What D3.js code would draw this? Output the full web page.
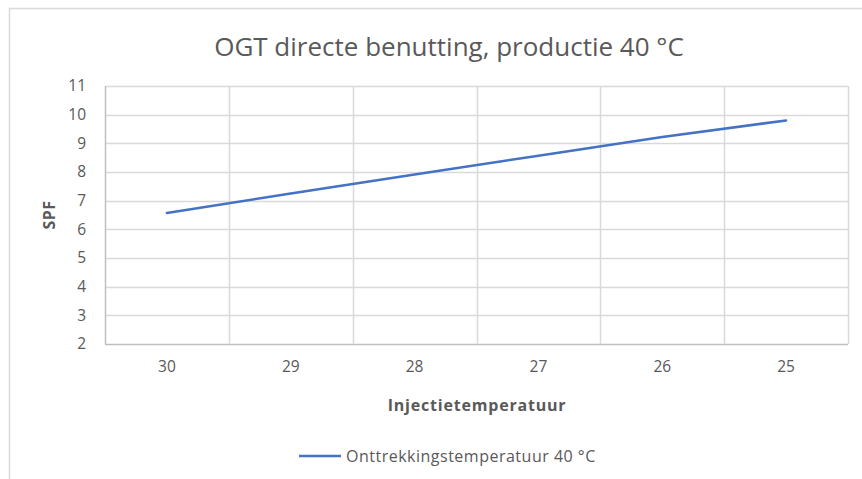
<!DOCTYPE html>
<html>
<head>
<meta charset="utf-8">
<script src="https://cdn.jsdelivr.net/npm/d3@7"></script>
<style>
  body { margin: 0; background: #fff; }
  text { font-family: 'Open Sans', 'Liberation Sans', sans-serif; fill: #595959; }
</style>
</head>
<body>
<div id="chart"></div>
<script>
const width = 862
const height = 479

const categories = ['30', '29', '28', '27', '26', '25']
const spfValues = [6.57, 7.25, 7.91, 8.57, 9.22, 9.8]
const yTicks = [2, 3, 4, 5, 6, 7, 8, 9, 10, 11]
const seriesName = 'Onttrekkingstemperatuur 40 °C'

const margin = { left: 105, right: 14, top: 86, bottom: 135 }

const svg = d3
  .select('#chart')
  .append('svg')
  .attr('width', width)
  .attr('height', height)

// chart frame
svg
  .append('rect')
  .attr('x', 9.5)
  .attr('y', 8.5)
  .attr('width', width)
  .attr('height', height)
  .attr('fill', 'none')
  .attr('stroke', '#d9d9d9')
  .attr('stroke-width', 1.5)

const x = d3
  .scaleBand()
  .domain(categories)
  .range([margin.left, width - margin.right])

const y = d3
  .scaleLinear()
  .domain([2, 11])
  .range([height - margin.bottom, margin.top])

// horizontal grid
svg
  .append('g')
  .selectAll('line')
  .data(yTicks)
  .enter()
  .append('line')
  .attr('x1', margin.left)
  .attr('x2', width - margin.right)
  .attr('y1', d => Math.round(y(d)) + 0.5)
  .attr('y2', d => Math.round(y(d)) + 0.5)
  .style('stroke', d => (d === 2 ? '#bfbfbf' : '#d9d9d9'))
  .style('stroke-width', 1.5)

// vertical grid at category edges
const edges = categories.map(c => x(c)).concat([width - margin.right])
svg
  .append('g')
  .selectAll('line')
  .data(edges)
  .enter()
  .append('line')
  .attr('x1', d => Math.round(d) + 0.5)
  .attr('x2', d => Math.round(d) + 0.5)
  .attr('y1', y(11))
  .attr('y2', y(2))
  .style('stroke', (d, i) => (i === 0 ? '#bfbfbf' : '#d9d9d9'))
  .style('stroke-width', 1.5)

// y axis labels
svg
  .append('g')
  .attr('transform', 'translate(' + (margin.left - 19) + ',0)')
  .call(d3.axisLeft(y).tickValues(yTicks).tickSize(0).tickPadding(0))
  .call(g => g.select('.domain').remove())
  .selectAll('text')
  .style('font-size', '15.5px')
  .style('fill', '#595959')
  .style('font-family', "'Open Sans', sans-serif")

// x axis labels
svg
  .append('g')
  .attr('transform', 'translate(0,' + (y(2) + 17) + ')')
  .call(d3.axisBottom(x).tickSize(0).tickPadding(0))
  .call(g => g.select('.domain').remove())
  .selectAll('text')
  .style('font-size', '15.5px')
  .style('fill', '#595959')
  .style('font-family', "'Open Sans', sans-serif")

// series line
const line = d3
  .line()
  .x((d, i) => x(categories[i]) + x.bandwidth() / 2)
  .y(d => y(d))

svg
  .append('path')
  .datum(spfValues)
  .attr('d', line)
  .attr('fill', 'none')
  .attr('stroke', '#4472c4')
  .attr('stroke-width', 2.5)
  .attr('stroke-linecap', 'round')

// title
svg
  .append('text')
  .attr('x', 449)
  .attr('y', 56)
  .attr('text-anchor', 'middle')
  .style('font-size', '26px')
  .text('OGT directe benutting, productie 40 °C')

// axis titles
svg
  .append('text')
  .attr('transform', 'translate(55,' + (y(6.5)) + ') rotate(-90)')
  .attr('text-anchor', 'middle')
  .style('font-size', '16px')
  .style('font-weight', 'bold')
  .style('letter-spacing', '0.4px')
  .text('SPF')

svg
  .append('text')
  .attr('x', 477)
  .attr('y', 411)
  .attr('text-anchor', 'middle')
  .style('font-size', '16px')
  .style('font-weight', 'bold')
  .style('letter-spacing', '0.8px')
  .text('Injectietemperatuur')

// legend
svg
  .append('line')
  .attr('x1', 299)
  .attr('x2', 341)
  .attr('y1', 456)
  .attr('y2', 456)
  .attr('stroke', '#4472c4')
  .attr('stroke-width', 2.5)

svg
  .append('text')
  .attr('x', 346)
  .attr('y', 462)
  .style('font-size', '16px')
  .style('letter-spacing', '0.5px')
  .text(seriesName)
</script>
</body>
</html>
